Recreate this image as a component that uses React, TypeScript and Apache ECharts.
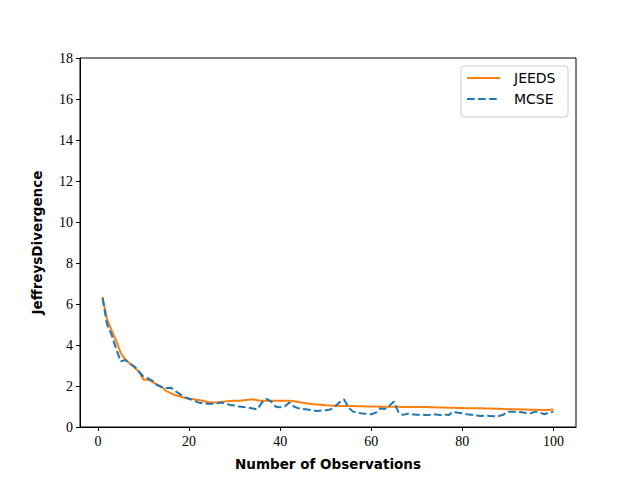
import React, { useEffect, useRef } from "react";
import * as echarts from "echarts";

const observations: number[] = Array.from({ length: 100 }, (_, i) => i + 1);

const jeeds: number[] = [
  6.35, 5.25, 4.7, 4.2, 3.6, 3.3, 3.1, 2.9, 2.7, 2.3,
  2.3, 2.2, 2.05, 1.95, 1.75, 1.65, 1.55, 1.5, 1.42, 1.38,
  1.35, 1.32, 1.28, 1.22, 1.19, 1.2, 1.22, 1.25, 1.27, 1.28,
  1.28, 1.3, 1.33, 1.35, 1.3, 1.28, 1.28, 1.28, 1.28, 1.28,
  1.28, 1.28, 1.26, 1.22, 1.18, 1.15, 1.12, 1.1, 1.08, 1.06,
  1.05, 1.04, 1.03, 1.02, 1.02, 1.02, 1.01, 1.01, 1.0, 1.0,
  1.0, 0.99, 0.99, 0.99, 0.99, 0.99, 0.98, 0.98, 0.98, 0.97,
  0.97, 0.97, 0.96, 0.96, 0.95, 0.95, 0.94, 0.94, 0.93, 0.93,
  0.92, 0.92, 0.91, 0.91, 0.9, 0.9, 0.89, 0.89, 0.88, 0.87,
  0.86, 0.86, 0.85, 0.85, 0.84, 0.84, 0.83, 0.83, 0.84, 0.85,
];

const mcse: number[] = [
  6.28, 5.0, 4.5, 3.8, 3.2, 3.27, 3.1, 2.95, 2.7, 2.45,
  2.37, 2.25, 2.05, 1.95, 1.9, 1.92, 1.75, 1.6, 1.45, 1.38,
  1.3, 1.2, 1.16, 1.14, 1.13, 1.15, 1.2, 1.15, 1.07, 1.05,
  1.0, 0.97, 0.94, 0.9, 0.86, 1.2, 1.37, 1.25, 0.99, 0.96,
  1.0, 1.2, 1.0, 0.91, 0.88, 0.85, 0.82, 0.78, 0.8, 0.82,
  0.85, 0.99, 1.2, 1.35, 0.95, 0.75, 0.7, 0.66, 0.64, 0.62,
  0.7, 0.9, 0.88, 1.05, 1.24, 0.7, 0.59, 0.65, 0.62, 0.6,
  0.6, 0.59, 0.6, 0.62, 0.58, 0.62, 0.58, 0.75, 0.7, 0.67,
  0.62, 0.6, 0.56, 0.54, 0.55, 0.54, 0.53, 0.54, 0.6, 0.75,
  0.75, 0.75, 0.72, 0.68, 0.67, 0.75, 0.7, 0.62, 0.7, 0.75,
];

const xTicks: number[] = [0, 20, 40, 60, 80, 100];

const ORANGE = "#ff7f0e";
const BLUE = "#1f77b4";
const TICK_FONT = "'Liberation Serif', 'DejaVu Serif', serif";
const LABEL_FONT = "'DejaVu Sans', sans-serif";

export default function App() {
  const ref = useRef<HTMLDivElement>(null);
  useEffect(() => {
    if (!ref.current) return;
    const chart = echarts.init(ref.current, undefined, { renderer: "svg" });
    const pairs = (ys: number[]) => observations.map((x, i) => [x, ys[i]]);
    chart.setOption({
      animation: false,
      backgroundColor: "#ffffff",
      grid: {
        left: 80,
        right: 64,
        top: 58,
        bottom: 53,
        show: true,
        borderColor: "#000",
        borderWidth: 1,
        backgroundColor: "transparent",
      },
      xAxis: {
        type: "value",
        min: -3.95,
        max: 104.95,
        name: "Number of Observations",
        nameLocation: "middle",
        nameGap: 30,
        nameTextStyle: { fontFamily: LABEL_FONT, fontWeight: "bold", fontSize: 13.5, color: "#000" },
        axisLine: { show: true, onZero: false, lineStyle: { color: "#000", width: 1 } },
        axisTick: { show: true, inside: false, length: 4, customValues: xTicks, lineStyle: { color: "#000" } },
        axisLabel: { customValues: xTicks, fontFamily: TICK_FONT, fontSize: 14, color: "#000", margin: 7 },
        splitLine: { show: false },
      },
      yAxis: {
        type: "value",
        min: 0,
        max: 18,
        interval: 2,
        name: "JeffreysDivergence",
        nameLocation: "middle",
        nameGap: 36,
        nameTextStyle: { fontFamily: LABEL_FONT, fontWeight: "bold", fontSize: 13.5, color: "#000" },
        axisLine: { show: true, onZero: false, lineStyle: { color: "#000", width: 1 } },
        axisTick: { show: true, inside: false, length: 4, lineStyle: { color: "#000" } },
        axisLabel: { fontFamily: TICK_FONT, fontSize: 14, color: "#000", margin: 7 },
        splitLine: { show: false },
      },
      series: [
        {
          name: "JEEDS",
          type: "line",
          data: pairs(jeeds),
          showSymbol: false,
          symbol: "none",
          lineStyle: { color: ORANGE, width: 2 },
          z: 2,
        },
        {
          name: "MCSE",
          type: "line",
          data: pairs(mcse),
          showSymbol: false,
          symbol: "none",
          lineStyle: { color: BLUE, width: 2, type: [7.7, 3.3] },
          z: 3,
        },
      ],
      graphic: [
        {
          type: "rect",
          shape: { x: 461, y: 66, width: 107, height: 51, r: 3 },
          style: { fill: "rgba(255,255,255,0.8)", stroke: "#cccccc", lineWidth: 1 },
          z: 10,
        },
        {
          type: "line",
          shape: { x1: 467, y1: 78, x2: 500, y2: 78 },
          style: { stroke: ORANGE, lineWidth: 2 },
          z: 11,
        },
        {
          type: "text",
          x: 514,
          y: 78,
          style: { text: "JEEDS", fontFamily: LABEL_FONT, fontSize: 14, fill: "#000", verticalAlign: "middle" },
          z: 11,
        },
        {
          type: "line",
          shape: { x1: 467, y1: 99, x2: 500, y2: 99 },
          style: { stroke: BLUE, lineWidth: 2, lineDash: [7.7, 3.3] },
          z: 11,
        },
        {
          type: "text",
          x: 514,
          y: 99,
          style: { text: "MCSE", fontFamily: LABEL_FONT, fontSize: 14, fill: "#000", verticalAlign: "middle" },
          z: 11,
        },
      ],
    });
    return () => chart.dispose();
  }, []);
  return <div ref={ref} style={{ width: 640, height: 480, position: "absolute", left: 0, top: 0 }} />;
}
